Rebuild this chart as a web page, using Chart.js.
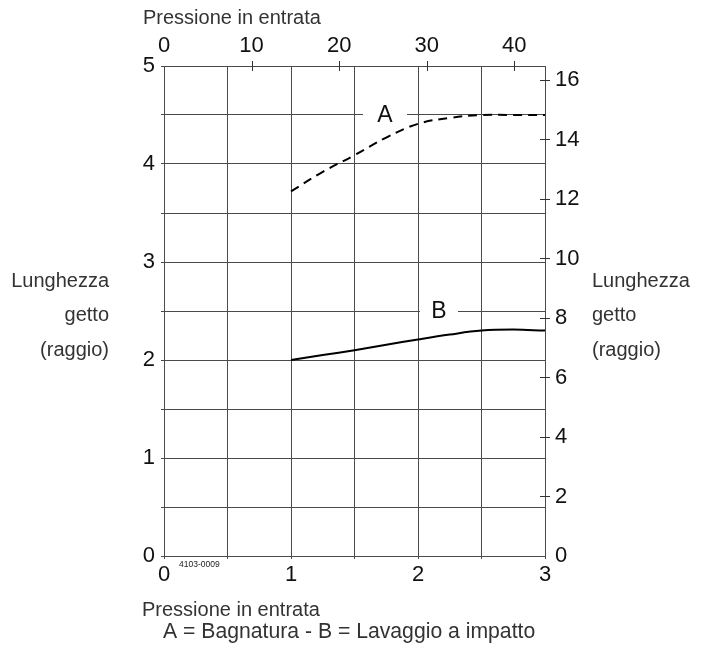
<!DOCTYPE html>
<html>
<head>
<meta charset="utf-8">
<script src="https://cdn.jsdelivr.net/npm/chart.js@4.4.1/dist/chart.umd.min.js"></script>
<style>
  html, body { margin: 0; padding: 0; background: #fff; }
  #wrap { position: relative; width: 710px; height: 651px; }
  canvas { display: block; }
</style>
</head>
<body>
<div id="wrap"><canvas id="c" width="710" height="651"></canvas></div>
<script>
// ---- data ----
const pressureBar = [1, 1.25, 1.5, 1.75, 2, 2.25, 2.5, 2.75, 3];
const seriesA = [3.72, 3.92, 4.09, 4.27, 4.41, 4.47, 4.50, 4.50, 4.50]; // Bagnatura
const seriesB = [2.00, 2.05, 2.10, 2.155, 2.21, 2.26, 2.30, 2.31, 2.30]; // Lavaggio a impatto
const bottomTicks = [0, 1, 2, 3];
const leftTicks = [0, 1, 2, 3, 4, 5];
const topTicks = [0, 10, 20, 30, 40];
const rightTicks = [0, 2, 4, 6, 8, 10, 12, 14, 16];
const seriesLabels = ['A', 'B'];
const yTitleLines = ['Lunghezza', 'getto', '(raggio)'];
const xTitle = 'Pressione in entrata';
const legendText = 'A = Bagnatura - B = Lavaggio a impatto';
const codeText = '4103-0009';

const FONT = '"Liberation Sans", Arial, Helvetica, sans-serif';
const GRID = '#4a4a4a';

const toXY = (xs, ys) => xs.map((x, i) => ({ x, y: ys[i] }));

const textPlugin = {
  id: 'texts',
  afterDraw(chart) {
    const ctx = chart.ctx;
    const a = chart.chartArea;
    const sx2 = chart.scales.x2, sy2 = chart.scales.y2, sx = chart.scales.x, sy = chart.scales.y;
    ctx.save();
    // cross ticks on top and right axes
    ctx.strokeStyle = '#333';
    ctx.lineWidth = 1;
    topTicks.forEach(v => {
      if (v === 0) return;
      const px = Math.round(sx2.getPixelForValue(v)) + 0.5;
      ctx.beginPath(); ctx.moveTo(px, a.top - 5); ctx.lineTo(px, a.top + 5); ctx.stroke();
    });
    rightTicks.forEach(v => {
      if (v === 0) return;
      const py = Math.round(sy2.getPixelForValue(v)) + 0.5;
      ctx.beginPath(); ctx.moveTo(a.right - 5, py); ctx.lineTo(a.right + 5, py); ctx.stroke();
    });
    // A / B labels with white gap in gridline
    ctx.font = '23px ' + FONT;
    ctx.textAlign = 'center';
    ctx.textBaseline = 'middle';
    const lab = [
      { t: seriesLabels[0], x: 1.74, y: 4.5, w: 44 },
      { t: seriesLabels[1], x: 2.165, y: 2.5, w: 38 }
    ];
    lab.forEach(l => {
      const px = sx.getPixelForValue(l.x), py = sy.getPixelForValue(l.y);
      ctx.fillStyle = '#fff';
      ctx.fillRect(px - l.w / 2, py - 3, l.w, 6);
      ctx.fillStyle = '#111';
      ctx.fillText(l.t, px, py + 1);
    });
    // axis titles
    ctx.fillStyle = '#333';
    ctx.font = '20px ' + FONT;
    ctx.textBaseline = 'middle';
    const ys = [281, 315, 350];
    ctx.textAlign = 'right';
    yTitleLines.forEach((t, i) => ctx.fillText(t, 109, ys[i]));
    ctx.textAlign = 'left';
    yTitleLines.forEach((t, i) => ctx.fillText(t, 592, ys[i]));
    ctx.textBaseline = 'alphabetic';
    ctx.fillText(xTitle, 143, 24);
    ctx.fillText(xTitle, 142, 616);
    ctx.font = '21.2px ' + FONT;
    ctx.fillText(legendText, 163, 638);
    ctx.font = '8.5px ' + FONT;
    ctx.fillStyle = '#222';
    ctx.fillText(codeText, 179, 567);
    ctx.restore();
  }
};

new Chart(document.getElementById('c'), {
  type: 'line',
  data: {
    datasets: [
      { label: 'A', data: toXY(pressureBar, seriesA), borderColor: '#000', borderWidth: 2,
        borderDash: [9, 6], pointRadius: 0, tension: 0.4, fill: false, xAxisID: 'x', yAxisID: 'y' },
      { label: 'B', data: toXY(pressureBar, seriesB), borderColor: '#000', borderWidth: 2,
        pointRadius: 0, tension: 0.4, fill: false, xAxisID: 'x', yAxisID: 'y' }
    ]
  },
  options: {
    responsive: false,
    animation: false,
    events: [],
    layout: { padding: 0 },
    plugins: { legend: { display: false }, tooltip: { enabled: false }, title: { display: false } },
    scales: {
      x: {
        type: 'linear', position: 'bottom', min: 0, max: 3,
        afterFit: s => { s.height = 95; },
        ticks: { stepSize: 0.5, autoSkip: false, maxRotation: 0, padding: 3, color: '#111',
          font: { family: FONT, size: 22 },
          callback: v => bottomTicks.includes(v) ? String(v) : '' },
        grid: { color: GRID, lineWidth: 1, tickLength: 3 },
        border: { color: GRID }
      },
      x2: {
        type: 'linear', position: 'top', min: 0, max: 43.5,
        afterFit: s => { s.height = 66; },
        ticks: { stepSize: 10, includeBounds: false, autoSkip: false, maxRotation: 0, padding: 7, color: '#111',
          font: { family: FONT, size: 22 },
          callback: v => topTicks.includes(v) ? String(v) : '' },
        grid: { display: true, drawOnChartArea: false, drawTicks: false },
        border: { color: GRID }
      },
      y: {
        type: 'linear', position: 'left', min: 0, max: 5,
        afterFit: s => { s.width = 164; },
        ticks: { stepSize: 0.5, autoSkip: false, padding: 6, color: '#111',
          font: { family: FONT, size: 22 },
          callback: v => leftTicks.includes(v) ? String(v) : '' },
        grid: { color: GRID, lineWidth: 1, tickLength: 3 },
        border: { color: GRID }
      },
      y2: {
        type: 'linear', position: 'right', min: 0, max: 16.47,
        afterFit: s => { s.width = 165; },
        ticks: { stepSize: 2, includeBounds: false, autoSkip: false, padding: 10, color: '#111',
          font: { family: FONT, size: 22 },
          callback: v => rightTicks.includes(v) ? String(v) : '' },
        grid: { display: true, drawOnChartArea: false, drawTicks: false },
        border: { color: GRID }
      }
    }
  },
  plugins: [textPlugin]
});
</script>
</body>
</html>
